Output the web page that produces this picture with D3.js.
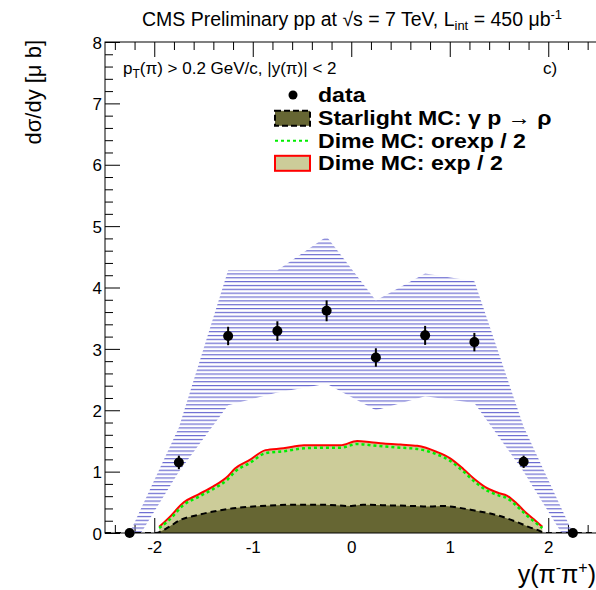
<!DOCTYPE html>
<html>
<head>
<meta charset="utf-8">
<script src="https://cdn.jsdelivr.net/npm/d3@7"></script>
<style>
  body { margin: 0; background: #fff; }
  svg { display: block; font-family: "Liberation Sans", Arial, Helvetica, sans-serif; }
</style>
</head>
<body>
<svg id="chart" width="596" height="590"></svg>
<script>
// bins of 0.5 in y(pi pi)
const binCenters = [-2.25, -1.75, -1.25, -0.75, -0.25, 0.25, 0.75, 1.25, 1.75, 2.25];
const dataValues = [0, 1.15, 3.21, 3.29, 3.62, 2.86, 3.22, 3.11, 1.16, 0];
const dataErrors = [0, 0.11, 0.15, 0.16, 0.17, 0.15, 0.155, 0.15, 0.10, 0];
// systematic band (hatched)
const bandUpper = [0.0, 1.72, 4.28, 4.28, 4.83, 3.79, 4.23, 4.10, 1.73, 0.0];
const bandLower = [-0.3, 1.0, 2.08, 2.29, 2.43, 2.0, 2.23, 2.12, 1.0, -0.3];

// Dime MC: exp / 2 (red)
const dimeExpX = [-1.95, -1.85, -1.70, -1.55, -1.40, -1.25, -1.18, -1.03, -0.87, -0.69, -0.48, -0.28, -0.11, 0.06, 0.20, 0.33, 0.50, 0.67, 0.87, 1.00, 1.14, 1.25, 1.38, 1.50, 1.58, 1.68, 1.78, 1.87, 1.94];
const dimeExpY = [0.10, 0.25, 0.50, 0.63, 0.76, 0.93, 1.05, 1.19, 1.35, 1.38, 1.43, 1.43, 1.43, 1.50, 1.48, 1.46, 1.44, 1.42, 1.32, 1.22, 1.04, 0.88, 0.73, 0.65, 0.61, 0.48, 0.32, 0.20, 0.10];
// Dime MC: orexp / 2 (green dotted)
const dimeOrexpY = [0.08, 0.21, 0.46, 0.59, 0.72, 0.88, 1.00, 1.14, 1.30, 1.33, 1.38, 1.39, 1.39, 1.45, 1.43, 1.41, 1.39, 1.37, 1.28, 1.18, 1.00, 0.84, 0.69, 0.61, 0.57, 0.44, 0.29, 0.17, 0.08];

// Starlight MC (black dashed)
const starX = [-2.5, -1.99, -1.85, -1.74, -1.57, -1.40, -1.26, -1.10, -0.92, -0.59, -0.30, 0.00, 0.12, 0.40, 0.63, 0.80, 0.94, 1.10, 1.24, 1.48, 1.68, 1.80, 1.89, 1.97, 2.5];
const starY = [0, 0.00, 0.10, 0.21, 0.29, 0.35, 0.39, 0.42, 0.44, 0.46, 0.46, 0.44, 0.46, 0.45, 0.44, 0.43, 0.44, 0.41, 0.37, 0.29, 0.18, 0.10, 0.05, 0.00, 0];

const xTicks = [-2, -1, 0, 1, 2];
const yTicks = [0, 1, 2, 3, 4, 5, 6, 7, 8];

const legendLabels = ["data", "Starlight MC: γ p → ρ", "Dime MC: orexp / 2", "Dime MC: exp / 2"];

var svg = d3.select("#chart");
svg.append("rect").attr("width", 596).attr("height", 590).attr("fill", "#fff");

var mLeft = 105, mRight = 597.5, mTop = 42, mBottom = 533;

var x = d3.scaleLinear().domain([-2.5, 2.5]).range([mLeft, mRight]);
var y = d3.scaleLinear().domain([0, 8]).range([mBottom, mTop]);

var defs = svg.append("defs");
defs.append("clipPath").attr("id", "frameclip")
  .append("rect").attr("x", mLeft).attr("y", mTop).attr("width", mRight - mLeft).attr("height", mBottom - mTop);

var hatch = defs.append("pattern")
  .attr("id", "hatch")
  .attr("patternUnits", "userSpaceOnUse")
  .attr("width", 10).attr("height", 3.85);
hatch.append("rect").attr("x", 0).attr("y", 0).attr("width", 10).attr("height", 1.2).attr("fill", "#6a6ad0");

// minor ticks first (fills cover them)
var minorX = d3.range(-2.4, 2.5, 0.2).map(d => +d.toFixed(1)).filter(d => Math.abs(d - Math.round(d)) > 0.01);
var minorY = d3.range(0, 8.01, 0.2).map(d => +d.toFixed(1)).filter(d => Math.abs(d - Math.round(d)) > 0.01);

var axes = svg.append("g");

axes.append("g")
  .attr("transform", `translate(0,${mBottom})`)
  .call(d3.axisBottom(x).tickValues(minorX).tickSize(-8).tickSizeOuter(0).tickFormat(""));
axes.append("g")
  .attr("transform", `translate(0,${mTop})`)
  .call(d3.axisTop(x).tickValues(minorX).tickSize(-8).tickSizeOuter(0).tickFormat(""));
axes.append("g")
  .attr("transform", `translate(${mLeft},0)`)
  .call(d3.axisLeft(y).tickValues(minorY).tickSize(-8).tickSizeOuter(0).tickFormat(""));

var xAxis = axes.append("g")
  .attr("transform", `translate(0,${mBottom})`)
  .call(d3.axisBottom(x).tickValues(xTicks).tickSize(-15).tickSizeOuter(0).tickPadding(8).tickFormat(d3.format("d")));
axes.append("g")
  .attr("transform", `translate(0,${mTop})`)
  .call(d3.axisTop(x).tickValues(xTicks).tickSize(-15).tickSizeOuter(0).tickFormat(""));
var yAxis = axes.append("g")
  .attr("transform", `translate(${mLeft},0)`)
  .call(d3.axisLeft(y).tickValues(yTicks).tickSize(-15).tickSizeOuter(0).tickPadding(3).tickFormat(d3.format("d")));

axes.selectAll(".domain").remove();
axes.selectAll("line").attr("stroke", "#000").attr("stroke-width", 1);
axes.selectAll("text")
  .attr("font-family", "Liberation Sans, Arial, sans-serif")
  .attr("font-size", 17)
  .attr("fill", "#000")
  .text(function () { return d3.select(this).text().replace("−", "-"); });
yAxis.selectAll("text").attr("dy", "0.36em");

var plot = svg.append("g").attr("clip-path", "url(#frameclip)");

// hatched systematic band
var bandArea = d3.area()
  .x((d, i) => x(binCenters[i]))
  .y0((d, i) => y(bandLower[i]))
  .y1((d, i) => y(bandUpper[i]));
plot.append("path")
  .datum(binCenters)
  .attr("d", bandArea)
  .attr("fill", "url(#hatch)");

// Dime exp fill + red line
var dimeIdx = d3.range(dimeExpX.length);
plot.append("path")
  .datum(dimeIdx)
  .attr("d", d3.area().curve(d3.curveMonotoneX)
    .x(i => x(dimeExpX[i])).y0(y(0)).y1(i => y(dimeExpY[i])))
  .attr("fill", "#cccc99");
plot.append("path")
  .datum(dimeIdx)
  .attr("d", d3.line().curve(d3.curveMonotoneX)
    .x(i => x(dimeExpX[i])).y(i => y(dimeExpY[i])))
  .attr("fill", "none").attr("stroke", "#ff0000").attr("stroke-width", 2);
plot.append("path")
  .datum(dimeIdx)
  .attr("d", d3.line().curve(d3.curveMonotoneX)
    .x(i => x(dimeExpX[i])).y(i => y(dimeOrexpY[i])))
  .attr("fill", "none").attr("stroke", "#00ee00").attr("stroke-width", 2.5)
  .attr("stroke-dasharray", "3,3");

// Starlight fill + dashed line
var starIdx = d3.range(starX.length);
plot.append("path")
  .datum(starIdx)
  .attr("d", d3.area().curve(d3.curveMonotoneX)
    .x(i => x(starX[i])).y0(y(0)).y1(i => y(starY[i])))
  .attr("fill", "#666633");
plot.append("path")
  .datum(starIdx)
  .attr("d", d3.line().curve(d3.curveMonotoneX)
    .x(i => x(starX[i])).y(i => y(starY[i])))
  .attr("fill", "none").attr("stroke", "#000").attr("stroke-width", 2)
  .attr("stroke-dasharray", "6,4");

// frame
svg.append("rect")
  .attr("x", mLeft).attr("y", mTop).attr("width", mRight - mLeft).attr("height", mBottom - mTop)
  .attr("fill", "none").attr("stroke", "#000").attr("stroke-width", 1);

// data points
var pts = svg.append("g");
pts.selectAll("line.err")
  .data(binCenters)
  .enter().append("line")
  .attr("class", "err")
  .attr("x1", d => x(d)).attr("x2", d => x(d))
  .attr("y1", (d, i) => y(dataValues[i] - dataErrors[i]))
  .attr("y2", (d, i) => y(dataValues[i] + dataErrors[i]))
  .attr("stroke", "#000").attr("stroke-width", 2);
pts.selectAll("circle")
  .data(binCenters)
  .enter().append("circle")
  .attr("cx", d => x(d))
  .attr("cy", (d, i) => y(dataValues[i]))
  .attr("r", 5)
  .attr("fill", "#000");

// titles
var title = svg.append("text")
  .attr("x", 352).attr("y", 26)
  .attr("text-anchor", "middle")
  .attr("font-size", 19.5);
title.append("tspan").text("CMS Preliminary pp at √s = 7 TeV, L");
title.append("tspan").attr("font-size", 13).attr("dy", 4).text("int");
title.append("tspan").attr("dy", -4).text(" = 450 μb");
title.append("tspan").attr("font-size", 13).attr("dy", -7).text("-1");

var ytitle = svg.append("text")
  .attr("transform", "translate(41,40) rotate(-90)")
  .attr("text-anchor", "end")
  .attr("font-size", 22)
  .text("dσ/dy [μ b]");

var xtitle = svg.append("text")
  .attr("x", 596).attr("y", 583)
  .attr("text-anchor", "end")
  .attr("font-size", 25);
xtitle.append("tspan").text("y(π");
xtitle.append("tspan").attr("font-size", 16).attr("dy", -10).text("-");
xtitle.append("tspan").attr("dy", 10).text("π");
xtitle.append("tspan").attr("font-size", 16).attr("dy", -10).text("+");
xtitle.append("tspan").attr("dy", 10).text(")");

var cut = svg.append("text")
  .attr("x", 123).attr("y", 74)
  .attr("font-size", 17);
cut.append("tspan").text("p");
cut.append("tspan").attr("font-size", 12).attr("dy", 4).text("T");
cut.append("tspan").attr("dy", -4).text("(π) > 0.2 GeV/c, |y(π)| < 2");

svg.append("text")
  .attr("x", 543).attr("y", 74)
  .attr("font-size", 17)
  .text("c)");

// legend
var lg = svg.append("g");
var rowY = [95, 118.3, 140.8, 163.3];
lg.append("circle").attr("cx", 293).attr("cy", rowY[0]).attr("r", 4.5).attr("fill", "#000");
lg.append("rect")
  .attr("x", 275).attr("y", rowY[1] - 7.5).attr("width", 35).attr("height", 15)
  .attr("fill", "#666633").attr("stroke", "#000").attr("stroke-width", 2).attr("stroke-dasharray", "6,3");
lg.append("line")
  .attr("x1", 275).attr("x2", 310).attr("y1", rowY[2]).attr("y2", rowY[2])
  .attr("stroke", "#00ee00").attr("stroke-width", 2).attr("stroke-dasharray", "3,3");
lg.append("rect")
  .attr("x", 275).attr("y", rowY[3] - 7.5).attr("width", 35).attr("height", 15)
  .attr("fill", "#cccc99").attr("stroke", "#ff0000").attr("stroke-width", 2);
lg.selectAll("text.lbl")
  .data(legendLabels)
  .enter().append("text")
  .attr("class", "lbl")
  .attr("transform", (d, i) => `translate(318,${rowY[i] + 7}) scale(1.1,1)`)
  .attr("font-size", 21)
  .attr("font-weight", "bold")
  .text(d => d);
</script>
</body>
</html>
